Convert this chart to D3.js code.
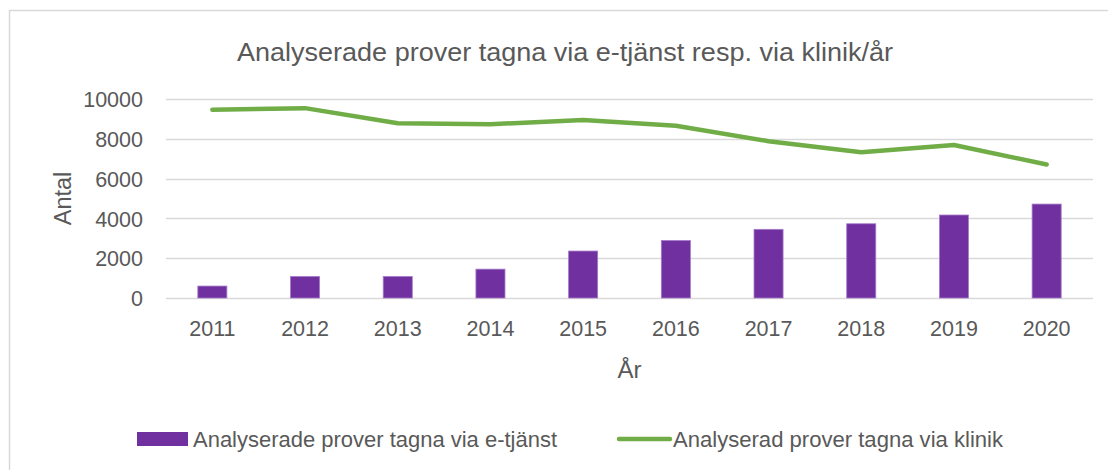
<!DOCTYPE html>
<html>
<head>
<meta charset="utf-8">
<script src="https://cdn.jsdelivr.net/npm/d3@7"></script>
<style>
  html, body { margin: 0; padding: 0; background: #fff; }
  svg { display: block; }
  text { font-family: "Liberation Sans", Arial, sans-serif; fill: #595959; }
</style>
</head>
<body>
<svg id="chart" width="1108" height="470"></svg>
<script>
const years = ["2011","2012","2013","2014","2015","2016","2017","2018","2019","2020"];
const eTjanst = [600, 1080, 1080, 1450, 2360, 2890, 3450, 3730, 4170, 4720];
const klinik  = [9460, 9540, 8780, 8730, 8950, 8660, 7880, 7320, 7690, 6710];
const yTicks = [0, 2000, 4000, 6000, 8000, 10000];
const titleText = "Analyserade prover tagna via e-tjänst resp. via klinik/år";
const seriesNames = ["Analyserade prover tagna via e-tjänst", "Analyserad prover tagna via klinik"];
const xTitle = "År";
const yTitle = "Antal";

const svg = d3.select("#chart");
const purple = "#7030A0", green = "#70AD47", grid = "#D9D9D9";

// chart area border
svg.append("rect").attr("x", 9.5).attr("y", 10.5).attr("width", 1200).attr("height", 600)
  .attr("fill", "none").attr("stroke", grid).attr("stroke-width", 1.5);

const plot = {left: 166, right: 1093, top: 99, bottom: 298};
const x = d3.scaleBand().domain(years).range([plot.left, plot.right]).paddingInner(0).paddingOuter(0);
const y = d3.scaleLinear().domain([0, 10000]).range([plot.bottom, plot.top]);

// gridlines
svg.append("g").selectAll("line").data(yTicks).join("line")
  .attr("x1", plot.left).attr("x2", plot.right)
  .attr("y1", d => Math.round(y(d)) + 0.5).attr("y2", d => Math.round(y(d)) + 0.5)
  .attr("stroke", grid).attr("stroke-width", 1.5);

// y axis labels
const yAxis = d3.axisLeft(y).tickValues(yTicks).tickSize(0).tickPadding(0).tickFormat(d3.format("d"));
const yg = svg.append("g").attr("transform", `translate(${143},0)`).call(yAxis);
yg.select(".domain").remove();
yg.selectAll("text").attr("font-size", 21.5).attr("fill", "#595959")
  .style("font-family", "Liberation Sans, Arial, sans-serif").attr("dy", "0.36em");

// x axis labels
const xAxis = d3.axisBottom(x).tickSize(0).tickPadding(0);
const xg = svg.append("g").attr("transform", `translate(0,${321})`).call(xAxis);
xg.select(".domain").remove();
xg.selectAll("text").attr("font-size", 21.5).attr("fill", "#595959")
  .style("font-family", "Liberation Sans, Arial, sans-serif").attr("dy", "0.71em");

// bars
const bw = x.bandwidth() / 3.19;
svg.append("g").selectAll("rect").data(eTjanst).join("rect")
  .attr("x", (d, i) => x(years[i]) + x.bandwidth() / 2 - bw / 2)
  .attr("y", d => y(d))
  .attr("width", bw)
  .attr("height", d => y(0) - y(d))
  .attr("fill", purple).attr("stroke", "#A57BC8").attr("stroke-width", 0.8);

// line
const line = d3.line().x((d, i) => x(years[i]) + x.bandwidth() / 2).y(d => y(d));
svg.append("path").datum(klinik).attr("d", line)
  .attr("fill", "none").attr("stroke", green).attr("stroke-width", 4.5)
  .attr("stroke-linecap", "round").attr("stroke-linejoin", "round");

// title
svg.append("text").attr("x", 565).attr("y", 61).attr("text-anchor", "middle")
  .attr("font-size", 26.5).attr("textLength", 656).attr("lengthAdjust", "spacingAndGlyphs").text(titleText);

// axis titles
svg.append("text").attr("x", (plot.left + plot.right) / 2).attr("y", 378).attr("text-anchor", "middle")
  .attr("font-size", 24).text(xTitle);
svg.append("text").attr("transform", `translate(71,${(plot.top + plot.bottom) / 2}) rotate(-90)`)
  .attr("text-anchor", "middle").attr("font-size", 23.5).text(yTitle);

// legend
const lg = svg.append("g");
lg.append("rect").attr("x", 137).attr("y", 432).attr("width", 51).attr("height", 14).attr("fill", purple);
lg.append("text").attr("x", 193).attr("y", 447).attr("font-size", 22)
  .attr("textLength", 364).attr("lengthAdjust", "spacingAndGlyphs").text(seriesNames[0]);
lg.append("line").attr("x1", 619).attr("x2", 670).attr("y1", 439).attr("y2", 439)
  .attr("stroke", green).attr("stroke-width", 4.5).attr("stroke-linecap", "round");
lg.append("text").attr("x", 673).attr("y", 447).attr("font-size", 22)
  .attr("textLength", 330).attr("lengthAdjust", "spacingAndGlyphs").text(seriesNames[1]);
</script>
</body>
</html>
